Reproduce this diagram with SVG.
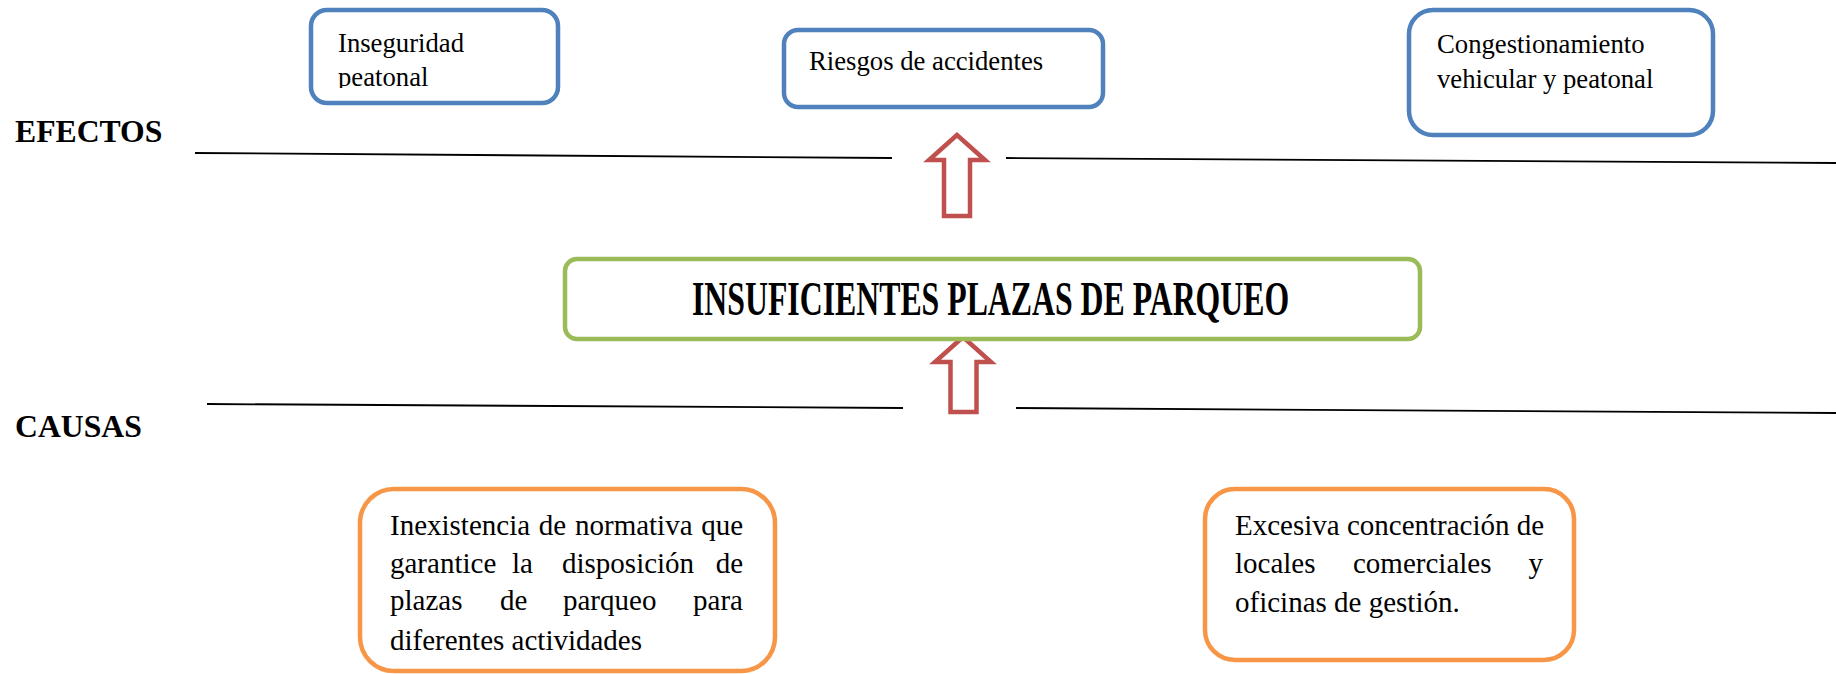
<svg xmlns="http://www.w3.org/2000/svg" width="1836" height="674" viewBox="0 0 1836 674">
<style>
.t{font-family:"Liberation Serif","Times New Roman",serif;fill:#000}
.body{font-size:26.7px}
.cause{font-size:29px}
.lbl{font-size:31.7px;font-weight:bold}
.eff{fill:#fff;stroke:#4F81BD;stroke-width:4.5}
.cau{fill:#fff;stroke:#F79646;stroke-width:4.5}
.core{fill:#fff;stroke:#9BBB59;stroke-width:4.5}
.ln{stroke:#000;stroke-width:1.8;fill:none}
.arr{fill:#fff;stroke:#C0504D;stroke-width:4.5;stroke-linejoin:miter}
</style>
<defs>
<clipPath id="c1"><rect x="311" y="10" width="247" height="78"/></clipPath>
</defs>
<rect width="1836" height="674" fill="#fff"/>

<g id="connectors">
<line class="ln" x1="195" y1="153" x2="892" y2="158"/>
<line class="ln" x1="1006" y1="158" x2="1836" y2="163"/>
<line class="ln" x1="207" y1="404" x2="903" y2="408"/>
<line class="ln" x1="1016" y1="408" x2="1836" y2="413"/>
<path class="arr" d="M957,135 L929,160 L944,160 L944,216 L970,216 L970,160 L985,160 Z"/>
<path class="arr" d="M963,337 L935,362 L950.5,362 L950.5,412 L976.5,412 L976.5,362 L991,362 Z"/>
</g>

<g id="label-efectos"><text class="t lbl" x="15" y="142">EFECTOS</text></g>
<g id="label-causas"><text class="t lbl" x="15" y="437">CAUSAS</text></g>

<g id="effect-inseguridad">
<rect class="eff" x="311" y="10" width="247" height="93" rx="16"/>
<g clip-path="url(#c1)">
<text class="t body" x="338" y="52">Inseguridad</text>
<text class="t body" x="338" y="86">peatonal</text>
</g>
</g>

<g id="effect-riesgos">
<rect class="eff" x="784" y="30" width="319" height="77" rx="14"/>
<text class="t body" x="809" y="70">Riesgos de accidentes</text>
</g>

<g id="effect-congestionamiento">
<rect class="eff" x="1409" y="10" width="304" height="125" rx="24"/>
<text class="t body" x="1437" y="53">Congestionamiento</text>
<text class="t body" x="1437" y="88">vehicular y peatonal</text>
</g>

<g id="core-problem">
<rect class="core" x="565" y="259" width="855" height="80" rx="12"/>
<text class="t" font-size="31.8" font-weight="bold" transform="translate(692,315) scale(1,1.5)">INSUFICIENTES PLAZAS DE PARQUEO</text>
</g>

<g id="cause-normativa">
<rect class="cau" x="360" y="489" width="415" height="182" rx="34"/>
<g class="t cause">
<text x="390" y="535" word-spacing="1.5">Inexistencia de normativa que</text>
<text x="390" y="573">garantice</text>
<text x="512" y="573">la</text>
<text x="562" y="573">disposición</text>
<text x="743" y="573" text-anchor="end">de</text>
<text x="390" y="610">plazas</text>
<text x="500" y="610">de</text>
<text x="563" y="610">parqueo</text>
<text x="743" y="610" text-anchor="end">para</text>
<text x="390" y="650">diferentes actividades</text>
</g>
</g>

<g id="cause-concentracion">
<rect class="cau" x="1205" y="489" width="369" height="171" rx="30"/>
<g class="t cause">
<text x="1235" y="535">Excesiva concentración de</text>
<text x="1235" y="573">locales</text>
<text x="1353" y="573">comerciales</text>
<text x="1543" y="573" text-anchor="end">y</text>
<text x="1235" y="612">oficinas de gestión.</text>
</g>
</g>
</svg>
